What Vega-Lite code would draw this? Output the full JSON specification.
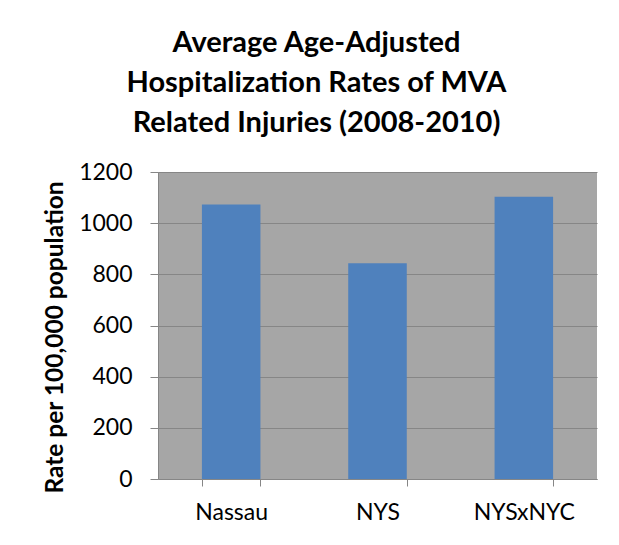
{
  "$schema": "https://vega.github.io/schema/vega-lite/v6.json",
  "width": 439,
  "height": 307,
  "autosize": {"type": "none"},
  "padding": {"left": 158, "top": 172, "right": 22, "bottom": 66},
  "background": "white",
  "title": {
    "text": ["Average Age-Adjusted", "Hospitalization Rates of MVA", "Related Injuries (2008-2010)"],
    "font": "Lato",
    "fontSize": 29,
    "fontWeight": "bold",
    "color": "black",
    "lineHeight": 40,
    "anchor": "middle",
    "dx": -61,
    "offset": 23
  },
  "data": {
    "values": [
      {"region": "Nassau", "rate": 1073},
      {"region": "NYS", "rate": 843},
      {"region": "NYSxNYC", "rate": 1103}
    ]
  },
  "mark": {"type": "bar", "color": "#4F81BD"},
  "encoding": {
    "x": {
      "field": "region",
      "type": "nominal",
      "sort": null,
      "scale": {"paddingInner": 0.6, "paddingOuter": 0.3},
      "axis": {
        "title": null,
        "labelAngle": 0,
        "labelFont": "Lato",
        "labelFontSize": 23,
        "labelColor": "black",
        "labelPadding": 15,
        "tickBand": "extent",
        "tickSize": 7,
        "tickColor": "#868686",
        "domainColor": "#868686",
        "grid": false
      }
    },
    "y": {
      "field": "rate",
      "type": "quantitative",
      "scale": {"domain": [0, 1200], "nice": false},
      "axis": {
        "title": "Rate per 100,000 population",
        "titleFont": "Lato",
        "titleFontSize": 24.5,
        "titleFontWeight": "bold",
        "titleColor": "black",
        "titlePadding": 11,
        "titleY": 165,
        "values": [0, 200, 400, 600, 800, 1000, 1200],
        "format": "d",
        "labelFont": "Lato",
        "labelFontSize": 23,
        "labelColor": "black",
        "labelPadding": 18,
        "tickSize": 8,
        "tickColor": "#868686",
        "domainColor": "#868686",
        "gridColor": "#868686",
        "gridOpacity": 1
      }
    }
  },
  "config": {
    "view": {"fill": "#A6A6A6", "stroke": null}
  }
}
